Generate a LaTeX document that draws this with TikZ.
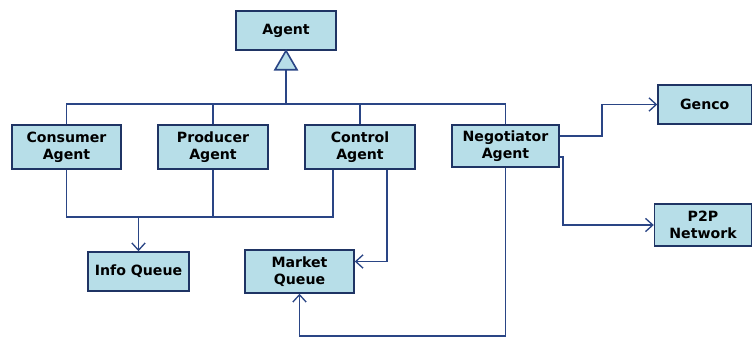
\documentclass[tikz,border=0pt]{standalone}
\usepackage{fontspec}
\setmainfont{DejaVu Sans}
\usetikzlibrary{arrows.meta,calc}
\definecolor{boxfill}{HTML}{B7DEE8}
\definecolor{boxline}{HTML}{1F3464}
\definecolor{conn}{HTML}{2A4585}
\tikzset{
  box/.style={draw=boxline, fill=boxfill, line width=1.1pt, align=center,
    font=\fontsize{10.6pt}{12.6pt}\selectfont\bfseries, inner sep=0pt},
  conline/.style={draw=conn, line width=1.2pt},
  arr/.style={conline, -{Straight Barb[length=5.5pt,width=10pt,line width=1pt]}}
}
\begin{document}
\begin{tikzpicture}[x=0.75pt,y=-0.75pt]
\useasboundingbox (0,0) rectangle (752,338);
\node[box, minimum width=100*0.75pt, minimum height=39*0.75pt] (agent) at (286,30.5) {Agent};
\node[box, minimum width=109*0.75pt, minimum height=44*0.75pt] (consumer) at (66.5,147) {Consumer\\Agent};
\node[box, minimum width=110*0.75pt, minimum height=44*0.75pt] (producer) at (213,147) {Producer\\Agent};
\node[box, minimum width=110*0.75pt, minimum height=44*0.75pt] (control) at (360,147) {Control\\Agent};
\node[box, minimum width=107*0.75pt, minimum height=42*0.75pt] (negot) at (505.5,146) {Negotiator\\Agent};
\node[box, minimum width=101*0.75pt, minimum height=39*0.75pt] (info) at (138.5,271.5) {Info Queue};
\node[box, minimum width=109*0.75pt, minimum height=43*0.75pt] (market) at (299.5,271.5) {Market\\Queue};
\node[box, minimum width=93.5*0.75pt, minimum height=39*0.75pt] (genco) at (704.75,104.5) {Genco};
\node[box, minimum width=97*0.75pt, minimum height=42*0.75pt] (p2p) at (703,225) {P2P\\Network};
% generalization
\coordinate (tb) at ($(agent.south)+(0,19)$);
\draw[conline, fill=boxfill] (agent.south) -- ($(tb)+(-11,0)$) -- ($(tb)+(11,0)$) -- cycle;
\coordinate (bus) at (0,104);
\draw[conline] (tb) -- (tb |- bus);
\draw[conline] (consumer.north) -- (consumer.north |- bus) -- (negot.north |- bus) -- (negot.north);
\draw[conline] (producer.north) -- (producer.north |- bus);
\draw[conline] (control.north) -- (control.north |- bus);
% info bus
\coordinate (b1) at (0,217);
\coordinate (cl) at ($(control.south)+(-27,0)$);
\coordinate (cr) at ($(control.south)+(27,0)$);
\draw[conline] (consumer.south) -- (consumer.south |- b1) -| (cl);
\draw[conline] (producer.south) -- (producer.south |- b1);
\draw[arr] (info.north |- b1) -- (info.north);
% market
\coordinate (me) at ($(market.east)+(0,-10)$);
\draw[arr] (cr) |- (me);
\draw[arr] (negot.south) -- ++(0,168) -| (market.south);
% negotiator outputs
\coordinate (ng) at ($(negot.east)+(0,-10)$);
\coordinate (np) at ($(negot.east)+(0,11)$);
\draw[arr] (ng) -- ++(42,0) |- (genco.west);
\draw[arr] (np) -- ++(3,0) |- (p2p.west);
\end{tikzpicture}
\end{document}
